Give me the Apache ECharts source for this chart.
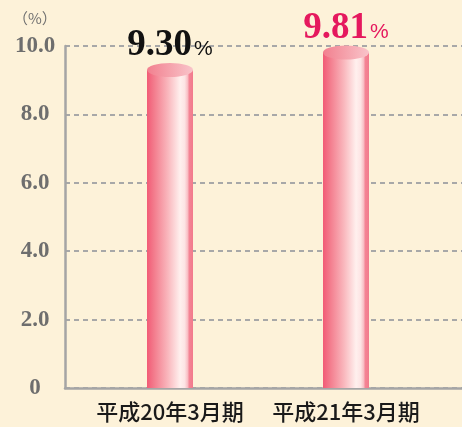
<!DOCTYPE html>
<html>
<head>
<meta charset="utf-8">
<script src="https://cdn.jsdelivr.net/npm/echarts@6/dist/echarts.min.js"></script>
<style>
html,body{margin:0;padding:0;background:#fdf2d9;}
#c{width:462px;height:427px;}
</style>
</head>
<body>
<div id="c"></div>
<script>
const categories = ['平成20年3月期', '平成21年3月期'];
const values = [9.30, 9.81];
const labelColors = ['#111111', '#e5195e'];
const yTicks = [0, 2, 4, 6, 8, 10];
const unitLabel = '（%）';

const chart = echarts.init(document.getElementById('c'), null, {renderer: 'canvas'});

const bodyGrad = new echarts.graphic.LinearGradient(0, 0, 1, 0, [
  {offset: 0, color: '#f25b76'},
  {offset: 0.15, color: '#f37b8c'},
  {offset: 0.45, color: '#f9b6bc'},
  {offset: 0.72, color: '#fff0ee'},
  {offset: 0.82, color: '#fde4e4'},
  {offset: 0.88, color: '#f9c0c6'},
  {offset: 0.92, color: '#f48494'},
  {offset: 1, color: '#f27a8c'}
]);
const topGrad = new echarts.graphic.LinearGradient(0, 0, 1, 0, [
  {offset: 0, color: '#f2808f'},
  {offset: 0.6, color: '#f6a9b2'},
  {offset: 1, color: '#f9c4ca'}
]);

const yFmt = v => (v === 0 ? '0' : v.toFixed(1));

chart.setOption({
  backgroundColor: '#fdf2d9',
  animation: false,
  title: {
    text: unitLabel, left: 8, top: 6,
    textStyle: {color: '#707070', fontSize: 15, fontWeight: 'normal', fontFamily: 'Noto Sans CJK JP'}
  },
  grid: [
    {left: 65, right: 0, top: 46, bottom: 39},
    {left: 82, right: 28, top: 46, bottom: 39}
  ],
  xAxis: [
    {gridIndex: 0, type: 'category', data: [''],
     axisLine: {show: true, lineStyle: {color: '#a5a5a5', width: 2.5}},
     axisTick: {show: false}, axisLabel: {show: false}},
    {gridIndex: 1, type: 'category', data: categories,
     axisLine: {show: false}, axisTick: {show: false},
     axisLabel: {interval: 0, margin: 13, color: '#1a1a1a', fontSize: 22, fontWeight: 500, fontFamily: 'Noto Sans CJK JP'}}
  ],
  yAxis: [
    {gridIndex: 0, type: 'value', min: yTicks[0], max: yTicks[yTicks.length - 1], interval: 2,
     axisLine: {show: true, lineStyle: {color: '#a5a5a5', width: 2.5}},
     axisTick: {show: false},
     splitLine: {show: true, lineStyle: {color: '#a8a8a8', width: 2, type: [5, 4]}},
     axisLabel: {formatter: yFmt, align: 'center', margin: 30, color: '#6e6e6e',
       fontSize: 23, fontWeight: 'bold', fontFamily: 'Liberation Serif'}},
    {gridIndex: 1, type: 'value', min: 0, max: 10, interval: 2, show: false}
  ],
  series: [
    {
      type: 'bar', xAxisIndex: 1, yAxisIndex: 1, barWidth: 46, z: 3,
      data: values.map((v, i) => ({
        value: v,
        label: {
          show: true, position: 'top', distance: 6,
          formatter: '{a|' + v.toFixed(2) + '}{b|%}',
          rich: {
            a: {fontSize: 37, fontWeight: 'bold', fontFamily: 'Liberation Serif', color: labelColors[i], lineHeight: 36, verticalAlign: 'bottom'},
            b: {fontSize: 21, fontWeight: 500, fontFamily: 'Liberation Sans', color: labelColors[i], lineHeight: 36, verticalAlign: 'bottom', padding: [0, 0, 4, 2]}
          }
        }
      })),
      itemStyle: {color: bodyGrad}
    },
    {
      type: 'pictorialBar', xAxisIndex: 1, yAxisIndex: 1, z: 4,
      symbol: 'circle', symbolSize: [46, 14], symbolPosition: 'end', symbolOffset: [0, '-50%'],
      data: values,
      itemStyle: {color: topGrad}
    }
  ]
});
</script>
</body>
</html>
